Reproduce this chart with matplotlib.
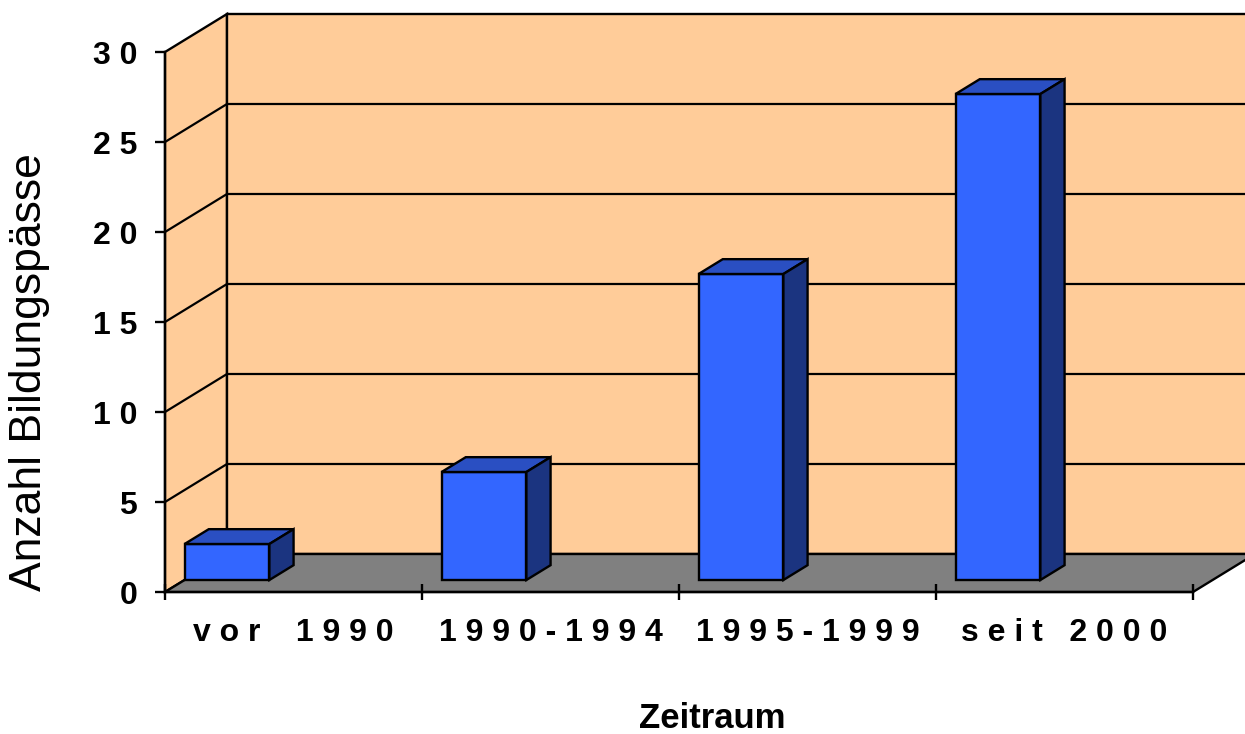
import matplotlib
matplotlib.use("Agg")
import matplotlib.pyplot as plt
from matplotlib.patches import Polygon

plt.rcParams['font.family'] = ['Liberation Sans', 'DejaVu Sans']

# Daten
kategorien = ["v o r    1 9 9 0", "1 9 9 0 - 1 9 9 4", "1 9 9 5 - 1 9 9 9", "s e i t   2 0 0 0"]
werte = [2, 6, 17, 27]
y_ticks = [0, 5, 10, 15, 20, 25, 30]
y_ticklabels = ["0", "5", "1 0", "1 5", "2 0", "2 5", "3 0"]

# Farben
wand = '#FFCC99'
boden = '#808080'
front = '#3366FF'
oben = '#2A4FC2'
seite = '#1B3480'

# 3D-Schraegprojektion (Tiefe 0 = vorne, 1 = hinten)
DX = 62 / 257
DY = 38 / 18
n = len(kategorien)
ymax = 30
lw = 1.7


def P(x, y, z):
    return (x + z * DX, y + z * DY)


fig = plt.figure(figsize=(12.45, 7.34), dpi=100)
ax = fig.add_axes([165 / 1245, 142 / 734, 1028 / 1245, 540 / 734])
ax.set_xlim(0, n)
ax.set_ylim(0, ymax)
ax.set_facecolor('none')


def poly(pts, fc, z=1):
    ax.add_patch(Polygon(pts, closed=True, facecolor=fc, edgecolor='black',
                         linewidth=lw, clip_on=False, zorder=z, joinstyle='miter'))


# Waende
poly([P(0, 0, 0), P(0, ymax, 0), P(0, ymax, 1), P(0, 0, 1)], wand)
poly([P(0, 0, 1), P(n, 0, 1), P(n, ymax, 1), P(0, ymax, 1)], wand)

# Gitterlinien
for v in y_ticks[1:-1]:
    pts = [P(0, v, 0), P(0, v, 1), P(n, v, 1)]
    ax.plot([p[0] for p in pts], [p[1] for p in pts], color='black',
            linewidth=1.6, clip_on=False, zorder=1.2)

# Boden
poly([P(0, 0, 0), P(n, 0, 0), P(n, 0, 1), P(0, 0, 1)], boden, z=1.5)

# Balken
z0, z1 = 0.316, 0.706
breite = 0.33
for i, v in enumerate(werte):
    x0, x1 = i, i + breite
    poly([P(x0, 0, z0), P(x1, 0, z0), P(x1, v, z0), P(x0, v, z0)], front, z=3)
    poly([P(x0, v, z0), P(x1, v, z0), P(x1, v, z1), P(x0, v, z1)], oben, z=3)
    poly([P(x1, 0, z0), P(x1, 0, z1), P(x1, v, z1), P(x1, v, z0)], seite, z=3)

# Achsen
for s in ['top', 'right']:
    ax.spines[s].set_visible(False)
for s in ['left', 'bottom']:
    ax.spines[s].set_linewidth(lw)
    ax.spines[s].set_zorder(2.5)

ax.set_yticks(y_ticks)
ax.set_yticklabels(y_ticklabels, fontsize=23, fontweight='bold')
ax.tick_params(axis='y', length=7, width=lw, pad=13)

ax.set_xticks([i + 0.5 for i in range(n)])
ax.set_xticklabels(kategorien, fontsize=23, fontweight='bold')
ax.tick_params(axis='x', which='major', length=0, pad=19)
ax.set_xticks(range(n + 1), minor=True)
ax.tick_params(axis='x', which='minor', direction='inout', length=12, width=lw)

fig.text(30 / 1245, 1 - 372 / 734, 'Anzahl Bildungspässe', rotation=90,
         ha='center', va='center', fontsize=32)
fig.text(712 / 1245, 1 - 718 / 734, 'Zeitraum', ha='center', va='center',
         fontsize=25, fontweight='bold')

fig.savefig('out.png', dpi=100)
